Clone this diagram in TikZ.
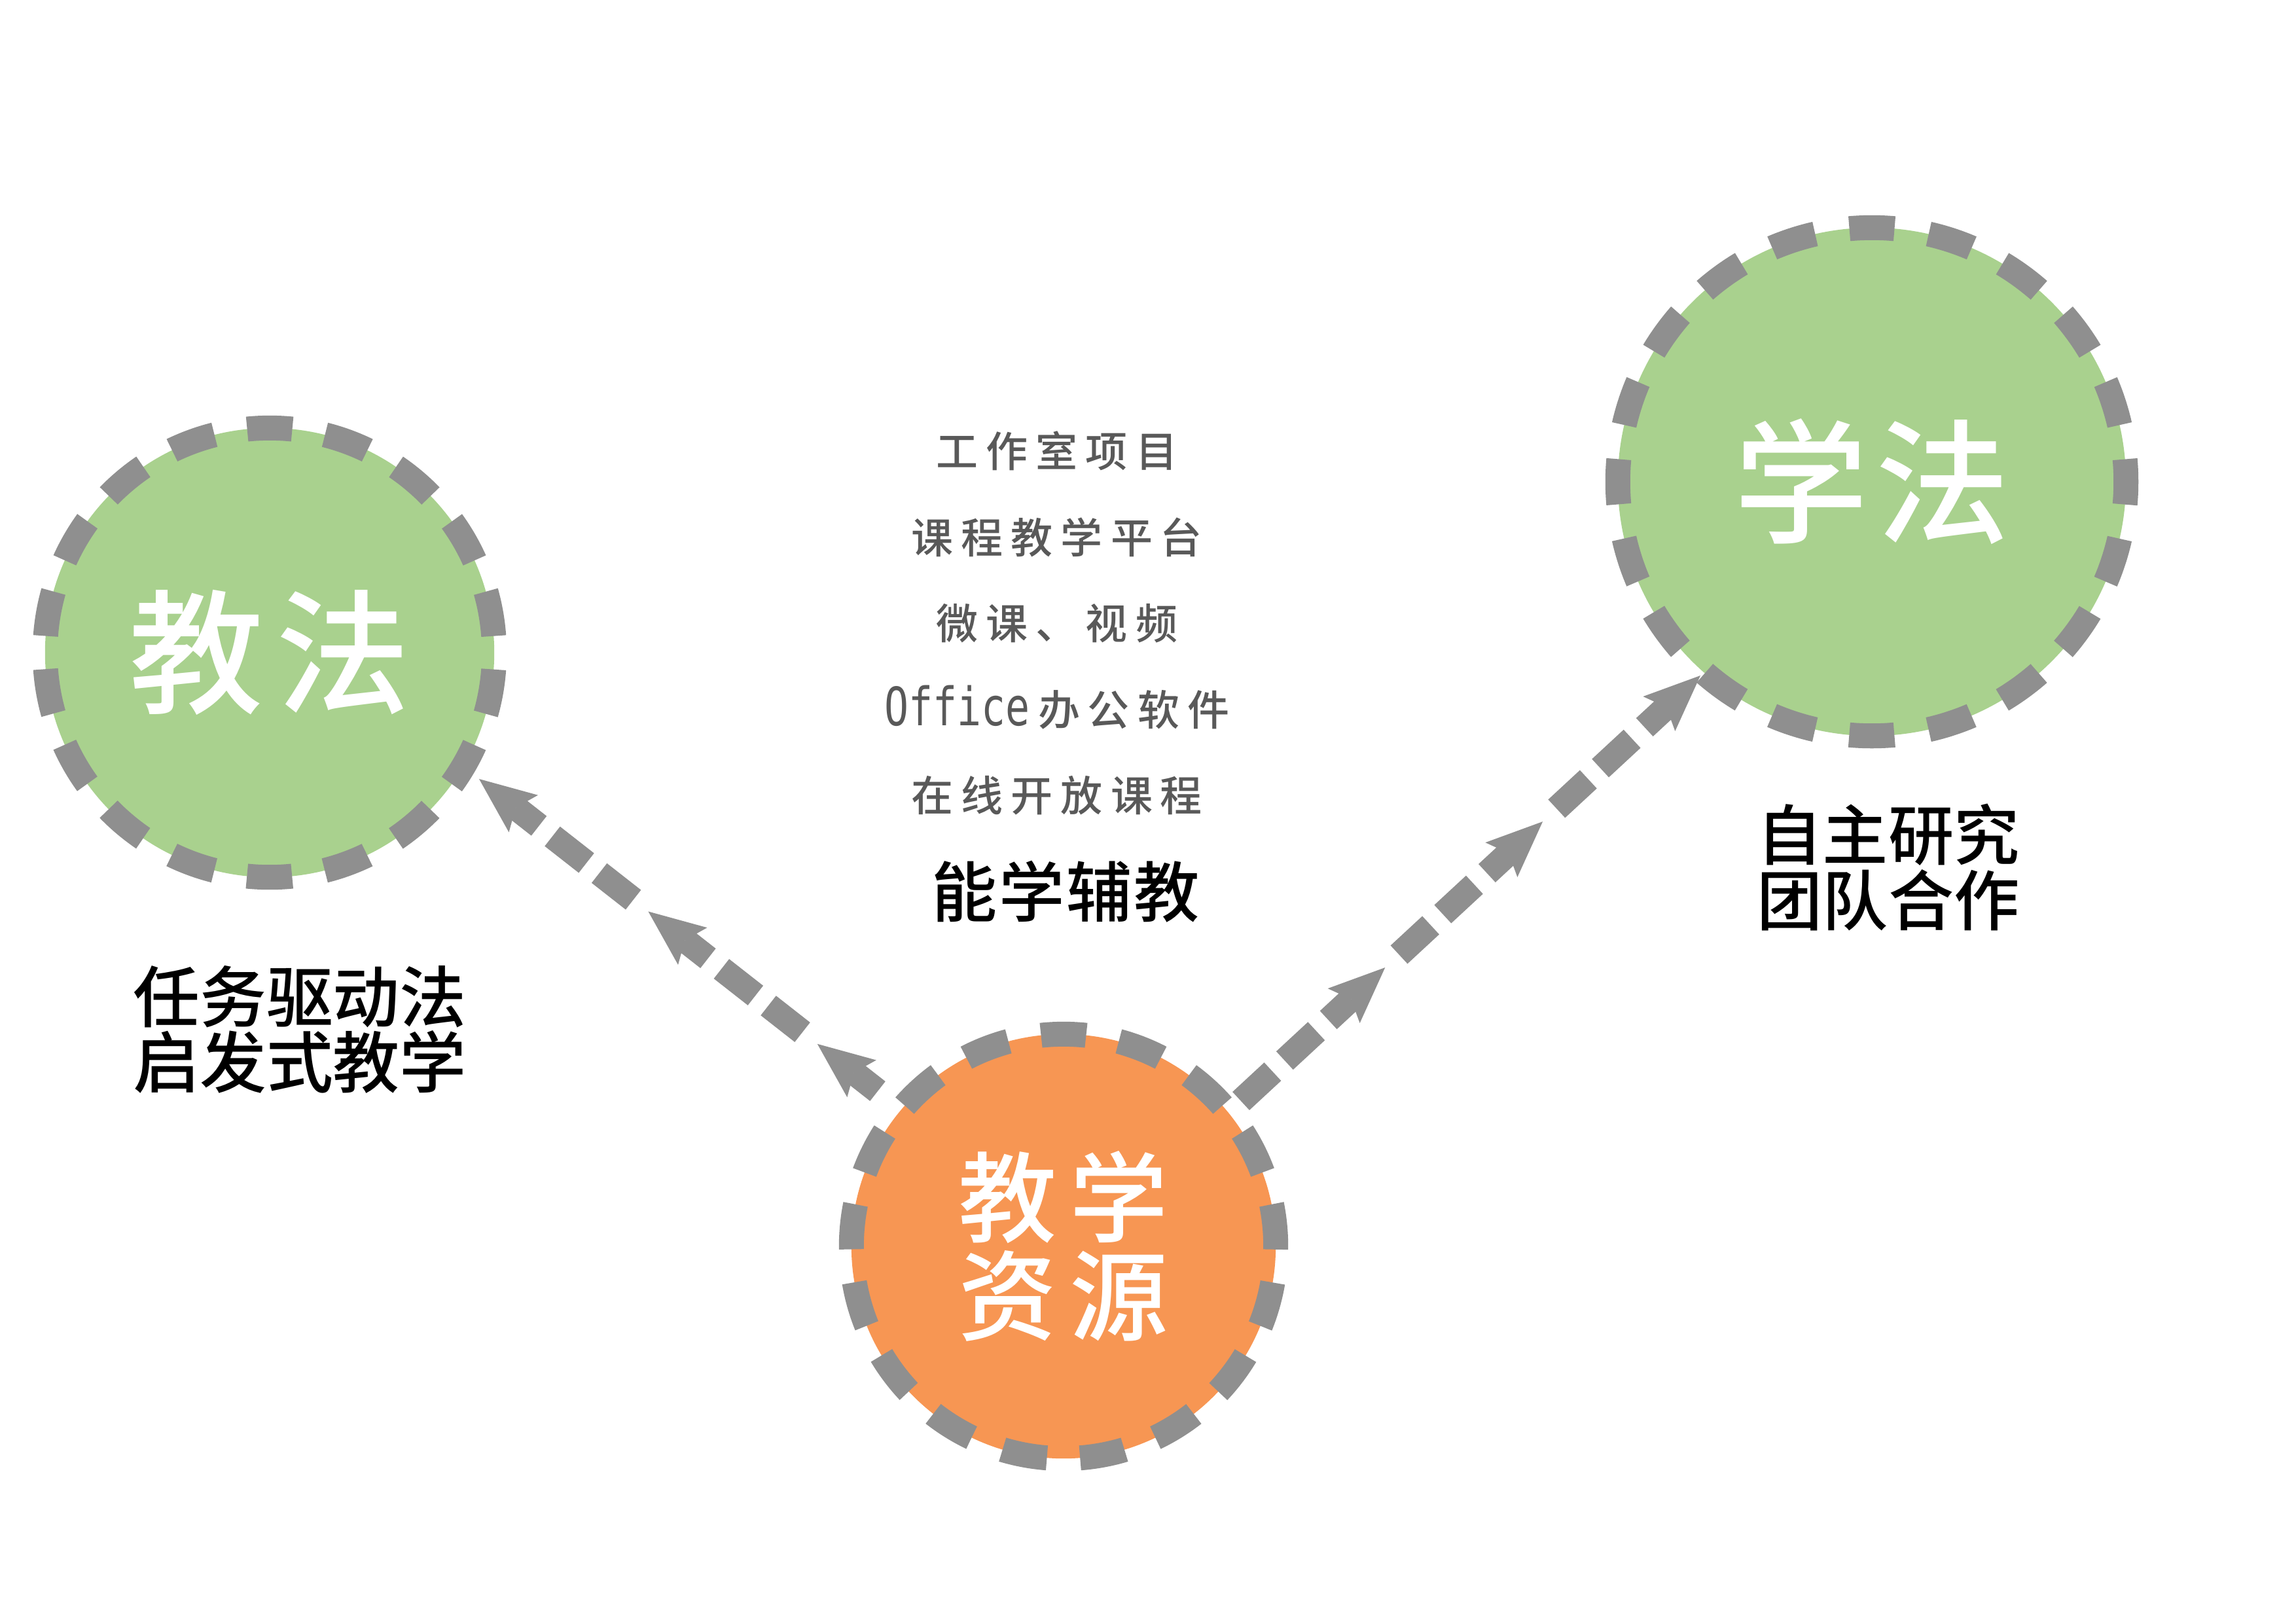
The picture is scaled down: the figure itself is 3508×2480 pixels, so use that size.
\documentclass[tikz,border=0pt]{standalone}
\usepackage{fontspec}
\usepackage{graphicx}
\newfontfamily\cjk{Noto Sans CJK SC}
\newfontfamily\cjkm{Noto Sans CJK SC Medium}
\newfontfamily\dvm{DejaVu Sans Mono}
\usetikzlibrary{arrows.meta,calc}
\definecolor{ringgray}{HTML}{8F8F8F}
\definecolor{greenfill}{HTML}{A9D18E}
\definecolor{orangefill}{HTML}{F79653}
\definecolor{textgray}{HTML}{595959}
\makeatletter
\newcommand\lsp[2]{\begingroup\def\lsp@sep{}\@tfor\lsp@c:=#2\do{\lsp@sep\lsp@c\def\lsp@sep{\hspace{#1}}}\endgroup}
\makeatother
\begin{document}
\begin{tikzpicture}[x=0.01cm,y=-0.01cm,
  ring/.style={circle, draw=ringgray, line width=0.38cm, inner sep=0pt, text=white, align=center},
  conn/.style={draw=ringgray, line width=0.38cm, -{Stealth[length=0.86cm,width=0.72cm,inset=0.15cm,line width'=0pt]}},
  seg/.style={conn, dash pattern=on 0pt off 0.29cm on 0.66cm off 0.25cm on 0.66cm off 0.26cm on 4cm},
  firstseg/.style={conn, dash pattern=on 0.66cm off 0.25cm on 0.66cm off 0.25cm on 4cm},
  lbl/.style={inner sep=0pt, align=center}]
\fill[white] (0,0) rectangle (3508,2480);
\useasboundingbox (0,0) rectangle (3508,2480);

% circles
\node[ring, fill=greenfill, minimum size=6.86cm,
      dash pattern=on 0.69cm off 0.5073cm, dash phase=0.9437cm,
      font=\cjkm\fontsize{58.3pt}{60pt}\selectfont] (jiao) at (412,997) {\lsp{0.19cm}{教法}};
\node[ring, fill=greenfill, minimum size=7.76cm,
      dash pattern=on 0.69cm off 0.529cm, dash phase=0.345cm,
      font=\cjkm\fontsize{58.3pt}{60pt}\selectfont] (xue) at (2860,736) {\lsp{0.12cm}{学法}};
\node[ring, fill=orangefill, minimum size=6.48cm,
      dash pattern=on 0.69cm off 0.5075cm, dash phase=0.045cm,
      font=\cjkm\fontsize{42.7pt}{42.7pt}\selectfont] (res) at (1625,1904) {\lsp{0.2cm}{教学}\\\lsp{0.2cm}{资源}};

% labels
\node[lbl, text=textgray, font=\cjkm\fontsize{18.2pt}{37.4pt}\selectfont] (list) at (1615,952)
  {\lsp{0.12cm}{工作室项目}\\
   \lsp{0.12cm}{课程教学平台}\\
   \lsp{0.12cm}{微课、视频}\\
   {\dvm\fontsize{23pt}{37.4pt}\selectfont\scalebox{0.76}[1]{Office}}\hspace{0.12cm}\lsp{0.12cm}{办公软件}\\
   \lsp{0.12cm}{在线开放课程}};
\node[lbl, text=black, font=\cjkm\fontsize{28.5pt}{28.5pt}\selectfont] (neng) at (1628,1362) {\lsp{0.03cm}{能学辅教}};
\node[lbl, text=black, font=\cjkm\fontsize{29pt}{28.45pt}\selectfont] (jiaolbl) at (458,1573) {任务驱动法\\启发式教学};
\node[lbl, text=black, font=\cjkm\fontsize{28.5pt}{28.45pt}\selectfont] (xuelbl) at (2885,1325) {自主研究\\团队合作};

% connector points
\coordinate (ls) at ($(res.center)+(-284,-237)$);
\coordinate (lt) at ($(jiao.center)+(320,193)$);
\coordinate (lt3) at ($(ls)!1.17cm!(lt)$);
\coordinate (lt2) at ($(ls)!4.45cm!(lt)$);
\coordinate (rs) at ($(res.center)+(271,-222)$);
\coordinate (rt) at ($(xue.center)+(-262,296)$);
\coordinate (rt1) at ($(rs)!3.00cm!(rt)$);
\coordinate (rt2) at ($(rs)!6.28cm!(rt)$);

% left connector: res -> jiao
\draw[conn] (ls) -- (lt3);
\draw[seg] (lt3) -- (lt2);
\draw[seg] (lt2) -- (lt);
% right connector: res -> xue
\draw[firstseg] (rs) -- (rt1);
\draw[seg] (rt1) -- (rt2);
\draw[seg] (rt2) -- (rt);
\end{tikzpicture}
\end{document}
